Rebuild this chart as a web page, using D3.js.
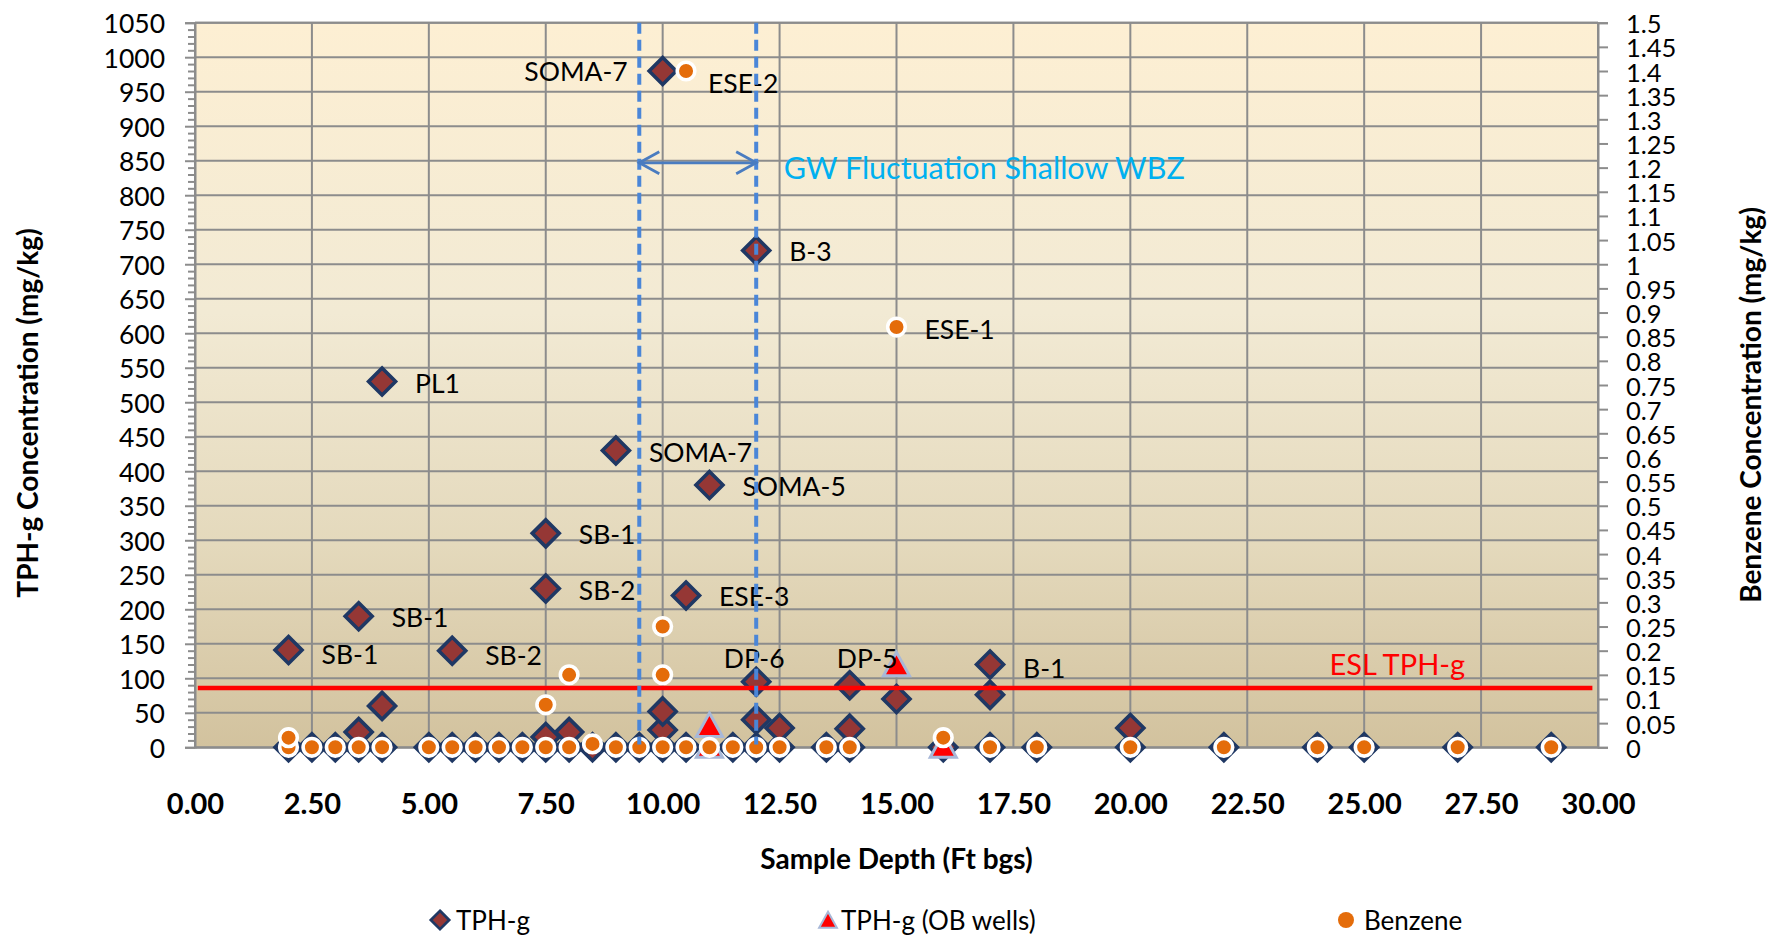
<!DOCTYPE html>
<html><head><meta charset="utf-8">
<script src="https://cdn.jsdelivr.net/npm/d3@7/dist/d3.min.js"></script>
<style>
body{margin:0;background:#fff;}
svg text{font-family:Lato,"Open Sans",sans-serif;fill:#000;}
</style></head><body>
<svg id="chart" width="1767" height="937"></svg>
<script>
// ---------------- DATA ----------------
const xTicks = [0, 2.5, 5, 7.5, 10, 12.5, 15, 17.5, 20, 22.5, 25, 27.5, 30];
const tphTicks = [0,50,100,150,200,250,300,350,400,450,500,550,600,650,700,750,800,850,900,950,1000,1050];
const benzeneTicks = [0,0.05,0.1,0.15,0.2,0.25,0.3,0.35,0.4,0.45,0.5,0.55,0.6,0.65,0.7,0.75,0.8,0.85,0.9,0.95,1,1.05,1.1,1.15,1.2,1.25,1.3,1.35,1.4,1.45,1.5];

// TPH-g (mg/kg) by sample depth (ft bgs)
const tphDepth = [2, 2, 2.5, 3, 3.5, 3.5, 3.5, 4, 4, 4,
                  5, 5.5, 5.5, 6, 6.5, 7, 7.5, 7.5, 7.5, 7.5,
                  8, 8, 8.5, 9, 9, 9.5, 10, 10, 10, 10,
                  10.5, 10.5, 11, 11.5, 12, 12, 12, 12, 12.5, 12.5,
                  13.5, 14, 14, 14, 15, 16, 17, 17, 17, 18,
                  20, 20, 22, 24, 25, 27, 29];
const tphValue = [0, 141, 0, 0, 0, 22, 190, 0, 60, 530,
                  0, 0, 140, 0, 0, 0, 0, 15, 230, 310,
                  0, 22, 0, 0, 430, 0, 0, 25, 52, 980,
                  0, 220, 380, 0, 0, 40, 95, 720, 0, 28,
                  0, 0, 27, 90, 70, 0, 0, 76, 120, 0,
                  0, 28, 0, 0, 0, 0, 0];
const tphLabel = ["", "SB-1", "", "", "", "", "SB-1", "", "", "PL1",
                  "", "", "SB-2", "", "", "", "", "", "SB-2", "SB-1",
                  "", "", "", "", "SOMA-7", "", "", "", "", "SOMA-7",
                  "", "ESE-3", "SOMA-5", "", "", "", "DP-6", "B-3", "", "",
                  "", "", "", "", "", "", "", "", "B-1", "",
                  "", "", "", "", "", "", ""];

// TPH-g (OB wells)
const obDepth = [11, 11, 15, 16];
const obValue = [0, 30, 118, 0];
const obLabel = ["", "", "DP-5", ""];

// Benzene (mg/kg)
const benzDepth = [2, 2, 2.5, 3, 3.5, 4, 5, 5.5, 6, 6.5,
                   7, 7.5, 7.5, 8, 8, 8.5, 9, 9.5, 10, 10,
                   10, 10.5, 10.5, 11, 11.5, 12, 12.5, 13.5, 14, 15,
                   16, 17, 18, 20, 22, 24, 25, 27, 29];
const benzValue = [0, 0.02, 0, 0, 0, 0, 0, 0, 0, 0,
                   0, 0, 0.088, 0, 0.15, 0.007, 0, 0, 0, 0.15,
                   0.25, 0, 1.4, 0, 0, 0, 0, 0, 0, 0.87,
                   0.02, 0, 0, 0, 0, 0, 0, 0, 0];
const benzLabel = ["", "", "", "", "", "", "", "", "", "",
                   "", "", "", "", "", "", "", "", "", "",
                   "", "", "ESE-2", "", "", "", "", "", "", "ESE-1",
                   "", "", "", "", "", "", "", "", ""];

const eslTph = 86;            // ESL TPH-g (mg/kg)
const gwRange = [9.5, 12];    // GW fluctuation, shallow WBZ (ft bgs)
const legendNames = ["TPH-g", "TPH-g (OB wells)", "Benzene"];

// ---------------- LAYOUT ----------------
const svg = d3.select("#chart");
const P = {left:195, right:1598, top:22.7, bottom:747.3};
const x = d3.scaleLinear().domain([0,30]).range([P.left,P.right]);
const yL = d3.scaleLinear().domain([0,1050]).range([P.bottom,P.top]);
const yR = d3.scaleLinear().domain([0,1.5]).range([P.bottom,P.top]);
const GRID = "#8C8C8C";

// background gradient
const defs = svg.append("defs");
const grad = defs.append("linearGradient").attr("id","bg").attr("x1",0).attr("y1",0).attr("x2",0).attr("y2",1);
[[0,"#FDEFD3"],[0.4,"#F2EAD4"],[0.72,"#E4D9BC"],[1,"#D2C29E"]].forEach(s=>
  grad.append("stop").attr("offset",s[0]).attr("stop-color",s[1]));
svg.append("rect").attr("x",P.left).attr("y",P.top).attr("width",P.right-P.left).attr("height",P.bottom-P.top).attr("fill","url(#bg)");

// grid
const g = svg.append("g");
g.selectAll(".hg").data(tphTicks).join("line")
  .attr("x1",P.left).attr("x2",P.right).attr("y1",d=>yL(d)).attr("y2",d=>yL(d))
  .attr("stroke",GRID).attr("stroke-width",2);
g.selectAll(".vg").data(xTicks).join("line")
  .attr("x1",d=>x(d)).attr("x2",d=>x(d)).attr("y1",P.top).attr("y2",P.bottom)
  .attr("stroke",GRID).attr("stroke-width",2);

// left axis (major + minor ticks)
const minorTicks = d3.range(0,1051,10).filter(v=>v%50!==0);
const axL = svg.append("g").attr("transform",`translate(${P.left},0)`)
  .call(d3.axisLeft(yL).tickValues(tphTicks).tickSize(10).tickPadding(20).tickFormat(d3.format("d")));
svg.append("g").attr("transform",`translate(${P.left},0)`)
  .call(d3.axisLeft(yL).tickValues(minorTicks).tickSize(7).tickFormat(""))
  .call(s=>s.select(".domain").remove());
// right axis
const axR = svg.append("g").attr("transform",`translate(${P.right},0)`)
  .call(d3.axisRight(yR).tickValues(benzeneTicks).tickSize(10).tickPadding(18).tickFormat(d=>String(+d.toFixed(2))));
// bottom axis
const axB = svg.append("g").attr("transform",`translate(0,${P.bottom})`)
  .call(d3.axisBottom(x).tickValues(xTicks).tickSize(0).tickPadding(0).tickFormat(d3.format(".2f")));

svg.selectAll(".domain").attr("stroke",GRID).attr("stroke-width",2);
svg.selectAll(".tick line").attr("stroke",GRID).attr("stroke-width",2);
axL.selectAll("text").style("font-size","26.5px").attr("dy",null).attr("dominant-baseline","central");
axR.selectAll("text").style("font-size","25.5px").attr("dy",null).attr("dominant-baseline","central");
axB.selectAll("text").style("font-size","29px").style("font-weight","bold")
  .attr("dy",null).attr("y",55).attr("dominant-baseline","central");
// top border
svg.append("line").attr("x1",P.left).attr("x2",P.right).attr("y1",P.top).attr("y2",P.top).attr("stroke",GRID).attr("stroke-width",2);

// axis titles
svg.append("text").attr("transform",`translate(27,${(P.top+P.bottom)/2+28}) rotate(-90)`)
  .attr("text-anchor","middle").attr("dominant-baseline","central")
  .style("font-size","28px").style("font-weight","bold").text("TPH-g Concentration (mg/kg)");
svg.append("text").attr("transform",`translate(1750,${(P.top+P.bottom)/2+20}) rotate(-90)`)
  .attr("text-anchor","middle").attr("dominant-baseline","central")
  .style("font-size","28px").style("font-weight","bold").text("Benzene Concentration (mg/kg)");
svg.append("text").attr("x",(P.left+P.right)/2).attr("y",858)
  .attr("text-anchor","middle").attr("dominant-baseline","central")
  .style("font-size","28px").style("font-weight","bold").text("Sample Depth (Ft bgs)");

// markers
const diamondPath = "M0,-13.5L13.5,0L0,13.5L-13.5,0Z";
const trianglePath = "M0,-13.5L13,10L-13,10Z";
const tph = tphDepth.map((d,i)=>({d, v:tphValue[i], label:tphLabel[i], i}));
const ob = obDepth.map((d,i)=>({d, v:obValue[i], label:obLabel[i], i}));
const bz = benzDepth.map((d,i)=>({d, v:benzValue[i], label:benzLabel[i], i}));

svg.append("g").selectAll("path").data(tph).join("path")
  .attr("d",diamondPath).attr("transform",p=>`translate(${x(p.d)},${yL(p.v)})`)
  .attr("fill","#953735").attr("stroke","#1F3864").attr("stroke-width",3.6).attr("stroke-linejoin","miter");
svg.append("g").selectAll("path").data(ob).join("path")
  .attr("d",trianglePath).attr("transform",p=>`translate(${x(p.d)},${yL(p.v)})`)
  .attr("fill","#FF0000").attr("stroke","#A8B8D8").attr("stroke-width",3);
svg.append("g").selectAll("circle").data(bz).join("circle")
  .attr("cx",p=>x(p.d)).attr("cy",p=>yR(p.v)).attr("r",8.8)
  .attr("fill","#E46C0A").attr("stroke","#FFFFFF").attr("stroke-width",3.6);

// ESL line
svg.append("line").attr("x1",x(0.06)).attr("x2",x(29.88)).attr("y1",yL(eslTph)).attr("y2",yL(eslTph))
  .attr("stroke","#FF0000").attr("stroke-width",4.5);
svg.append("text").attr("x",x(25.71)).attr("y",yL(eslTph)-24)
  .attr("text-anchor","middle").attr("dominant-baseline","central")
  .style("font-size","29px").style("fill","#FF0000").text("ESL TPH-g");

// data labels
const place = {
  "tph-29":{anchor:"end",dx:-35,dy:0},
  "tph-36":{anchor:"middle",dx:-2,dy:-24},
  "tph-1":{dy:4},"tph-12":{dy:4},"tph-48":{dy:4},
  "ob-2":{anchor:"end",dx:1,dy:-8},
  "bz-22":{dx:22,dy:12},"bz-29":{dx:28,dy:2}
};
function labels(data, key, ys){
  svg.append("g").selectAll("text").data(data.filter(p=>p.label)).join("text")
    .each(function(p){
      const o = Object.assign({anchor:"start",dx:33,dy:1}, place[`${key}-${p.i}`]||{});
      d3.select(this).attr("x",x(p.d)+o.dx).attr("y",ys(p.v)+o.dy).attr("text-anchor",o.anchor);
    })
    .attr("dominant-baseline","central").style("font-size","26.5px").text(p=>p.label);
}
labels(tph,"tph",yL); labels(ob,"ob",yL); labels(bz,"bz",yR);

// GW fluctuation zone
svg.append("g").selectAll("line").data(gwRange).join("line")
  .attr("x1",d=>x(d)).attr("x2",d=>x(d)).attr("y1",P.top).attr("y2",yL(4))
  .attr("stroke","#4A86D8").attr("stroke-width",4).attr("stroke-dasharray","11,6");
const ay = yL(847), ax1 = x(gwRange[0]), ax2 = x(gwRange[1]);
const arrow = svg.append("g").attr("stroke","#4A7CC0").attr("stroke-width",2.8).attr("fill","none");
arrow.append("line").attr("x1",ax1).attr("x2",ax2).attr("y1",ay).attr("y2",ay);
arrow.append("path").attr("d",`M${ax1+20},${ay-11}L${ax1},${ay}L${ax1+20},${ay+11}`);
arrow.append("path").attr("d",`M${ax2-20},${ay-11}L${ax2},${ay}L${ax2-20},${ay+11}`);
svg.append("text").attr("x",x(12.59)).attr("y",ay+4).attr("dominant-baseline","central")
  .style("font-size","30.5px").style("fill","#00B0F0").text("GW Fluctuation Shallow WBZ");

// legend
const ly = 920;
const leg = svg.append("g");
leg.append("path").attr("d",diamondPath).attr("transform",`translate(440,${ly}) scale(0.68)`)
  .attr("fill","#953735").attr("stroke","#1F3864").attr("stroke-width",4);
leg.append("text").attr("x",456).attr("y",ly).attr("dominant-baseline","central").style("font-size","26px").text(legendNames[0]);
leg.append("path").attr("d",trianglePath).attr("transform",`translate(828,${ly+1}) scale(0.68)`)
  .attr("fill","#FF0000").attr("stroke","#A8B8D8").attr("stroke-width",3);
leg.append("text").attr("x",841).attr("y",ly).attr("dominant-baseline","central").style("font-size","26px").text(legendNames[1]);
leg.append("circle").attr("cx",1346).attr("cy",ly).attr("r",8).attr("fill","#E46C0A");
leg.append("text").attr("x",1364).attr("y",ly).attr("dominant-baseline","central").style("font-size","26px").text(legendNames[2]);
</script>
</body></html>
